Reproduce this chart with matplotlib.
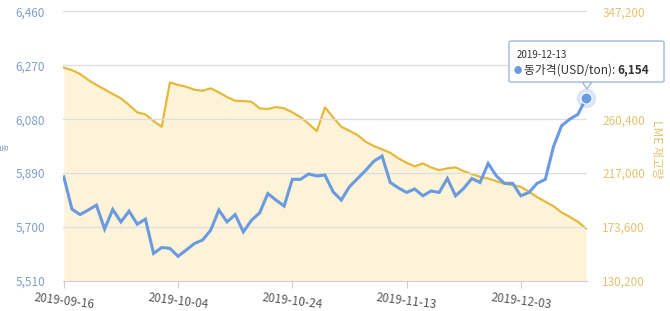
import matplotlib
matplotlib.use("Agg")
import matplotlib.pyplot as plt
from matplotlib.patches import FancyBboxPatch, Polygon
import numpy as np
import pandas as pd

plt.rcParams['font.family'] = ['Noto Sans CJK KR', 'DejaVu Sans']

dates = pd.bdate_range("2019-09-16", "2019-12-13").strftime("%Y-%m-%d").tolist()

copper_price = [5877, 5763, 5744, 5760, 5777, 5693, 5762, 5718, 5756, 5710,
                5728, 5607, 5628, 5625, 5597, 5619, 5642, 5654, 5689, 5760,
                5718, 5744, 5683, 5724, 5750, 5818, 5795, 5774, 5868, 5868,
                5887, 5880, 5883, 5824, 5795, 5842, 5871, 5900, 5932, 5950,
                5857, 5838, 5822, 5834, 5810, 5827, 5822, 5871, 5810, 5836,
                5871, 5857, 5924, 5880, 5854, 5854, 5810, 5822, 5854, 5868,
                5983, 6057, 6080, 6097, 6154]

lme_stock = [301800, 299900, 296700, 291900, 287900, 284400, 280600, 277150, 271750, 265900,
             264300, 258900, 254300, 290000, 287900, 286500, 284100, 283300, 285200, 282000,
             278200, 275200, 275000, 274400, 269100, 268500, 270150, 269100, 265900, 262100,
             256700, 250800, 269900, 261850, 254300, 251100, 247600, 242200, 238750, 236100,
             233350, 228850, 225300, 222400, 224800, 221600, 219400, 220800, 221600, 218600,
             216200, 214000, 212700, 210550, 208400, 207300, 206000, 202000, 197700, 194000,
             190400, 185350, 181800, 177800, 172500]

left_ticks = [5510, 5700, 5890, 6080, 6270, 6460]
right_ticks = [130200, 173600, 217000, 260400, 303800, 347200]
right_tick_labels = ["130,200", "173,600", "217,000", "260,400", "", "347,200"]
x_tick_labels = ["2019-09-16", "2019-10-04", "2019-10-24", "2019-11-13", "2019-12-03"]

blue = "#6a9ae0"
gold = "#e6b93a"
fill = "#fdf3d9"
left_col = "#7f9fcc"
right_col = "#e2c26e"

fig = plt.figure(figsize=(6.7, 3.11), dpi=100)
ax = fig.add_axes([0.094, 0.0965, 0.782, 0.8672])
ax2 = ax.twinx()

x = np.arange(len(dates))

# LME stock (right axis) with fill
ax2.fill_between(x, lme_stock, 130200, color=fill, lw=0, zorder=1)
ax2.plot(x, lme_stock, color=gold, lw=1.6, zorder=2)
ax2.set_ylim(130200, 347200)
ax2.set_yticks(right_ticks)
ax2.set_yticklabels(right_tick_labels)

# copper price on left axis, drawn above
ax.set_zorder(ax2.get_zorder() + 1)
ax.patch.set_visible(False)
ax.plot(x, copper_price, color=blue, lw=2.2, zorder=3, solid_joinstyle='miter')
ax.plot(x[-1], copper_price[-1], 'o', ms=14, color=blue, alpha=0.25, zorder=4,
        mec='none', clip_on=False)
ax.plot(x[-1], copper_price[-1], 'o', ms=8, color=blue, zorder=5, mec='white',
        mew=0.8, clip_on=False)
ax.set_ylim(5510, 6460)
ax.set_yticks(left_ticks)
ax.set_yticklabels([f"{v:,}" for v in left_ticks])
ax.set_xlim(-0.1, len(dates) - 1 + 0.1)

# grid lines (left-axis based)
for v in left_ticks[1:]:
    ax.axhline(v, color="#dedede", lw=0.9, zorder=0.5)

tick_pos = [0, 14, 28, 42, 56]
ax.set_xticks(tick_pos)
ax.set_xticklabels(x_tick_labels, rotation=-7, ha='center', color="#555555", fontsize=8.5)
ax.tick_params(axis='x', length=5, color="#cccccc", pad=2)
ax.tick_params(axis='y', length=0, colors=left_col, labelsize=8.5, pad=13)
ax2.tick_params(axis='y', length=0, colors=right_col, labelsize=8.5, pad=11)

for a in (ax, ax2):
    for s in ('top', 'left', 'right'):
        a.spines[s].set_visible(False)
    a.spines['bottom'].set_color("#d0d0d0")
ax2.spines['bottom'].set_visible(False)

# axis titles
fig.text(657 / 670, 1 - 149 / 311, "LME 재고량", rotation=270, color=right_col,
         fontsize=8.5, ha='center', va='center')
fig.text(5 / 670, 1 - 147 / 311, "동", rotation=90, color=left_col,
         fontsize=6, ha='center', va='center')

# tooltip
bx0, by0, bx1, by1 = 509 / 670, 1 - 82 / 311, 664 / 670, 1 - 41 / 311
box = FancyBboxPatch((bx0, by0), bx1 - bx0, by1 - by0, transform=fig.transFigure,
                     boxstyle="round,pad=0,rounding_size=0.004", fc="white",
                     ec="#9bb6dc", lw=1.0, zorder=10, alpha=0.95)
fig.patches.append(box)
tri = Polygon([(582 / 670, by0 + 0.001), (592 / 670, by0 + 0.001), (587 / 670, 1 - 89 / 311)],
              closed=True, transform=fig.transFigure, fc="white", ec="#9bb6dc", lw=1.0, zorder=9)
fig.patches.append(tri)
fig.text(517 / 670, 1 - 55 / 311, dates[-1], fontsize=7, color="#333333", va='center', zorder=11)
fig.text(514 / 670, 1 - 70 / 311, "●", fontsize=6, color=blue, va='center', zorder=11)
lab = fig.text(524 / 670, 1 - 70 / 311, "동가격(USD/ton): ", fontsize=8.5, color="#333333",
               va='center', zorder=11)
fig.canvas.draw()
ext = lab.get_window_extent(renderer=fig.canvas.get_renderer())
fig.text(ext.x1 / fig.bbox.width, 1 - 70 / 311, f"{copper_price[-1]:,}", fontsize=8.5,
         color="#333333", fontweight='bold', va='center', zorder=11)

fig.savefig("out.png", dpi=100)
